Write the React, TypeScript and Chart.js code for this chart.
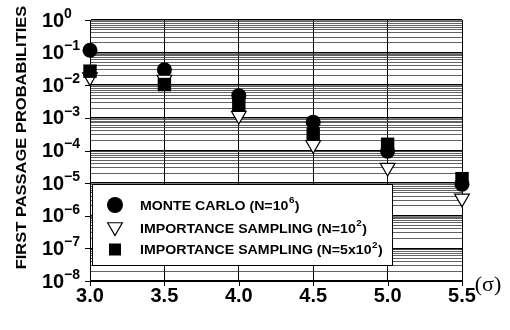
import React, { useEffect, useRef } from "react";
import { Chart, registerables } from "chart.js";

Chart.register(...registerables);

// ---------- data ----------
const sigma = [3.0, 3.5, 4.0, 4.5, 5.0, 5.5];
const xTickLabels = ["3.0", "3.5", "4.0", "4.5", "5.0", "5.5"];
const monteCarlo = [0.118, 0.03, 0.0048, 0.00074, 0.000095, 0.0000093];
const importance100 = [0.0177, 0.015, 0.00118, 0.00015, 0.00003, 0.0000034];
const importance500 = [0.027, 0.0105, 0.0026, 0.00032, 0.000155, 0.0000137];
const yExponents = [0, -1, -2, -3, -4, -5, -6, -7, -8];
const minorMultipliers = [2, 3, 4, 5, 6, 7, 8, 9];
const yTitle = "FIRST PASSAGE PROBABILITIES";
const xUnit = "(σ)";
const legendItems = [
  { base: "MONTE CARLO (N=10", sup: "6", tail: ")" },
  { base: "IMPORTANCE SAMPLING (N=10", sup: "2", tail: ")" },
  { base: "IMPORTANCE SAMPLING (N=5x10", sup: "2", tail: ")" },
];

const SANS = '"Liberation Sans", Arial, sans-serif';

function sText(ctx: CanvasRenderingContext2D, text: string, x: number, y: number, sx: number, align: CanvasTextAlign) {
  ctx.save();
  ctx.translate(x, y);
  ctx.scale(sx, 1);
  ctx.textAlign = align;
  ctx.fillText(text, 0, 0);
  ctx.restore();
}

const decorPlugin = {
  id: "decor",
  beforeDatasetsDraw(chart: any) {
    const ctx: CanvasRenderingContext2D = chart.ctx;
    // legend box
    const bx = 92.5, by = 184.5, bw = 300, bh = 81;
    ctx.save();
    ctx.fillStyle = "#fff";
    ctx.fillRect(bx, by, bw, bh);
    ctx.strokeStyle = "#000";
    ctx.lineWidth = 1;
    ctx.strokeRect(bx, by, bw, bh);
    const rows = [205, 228, 249.5];
    const sx = 1.09;
    // symbols
    ctx.fillStyle = "#000";
    ctx.beginPath();
    ctx.arc(115, rows[0], 8, 0, Math.PI * 2);
    ctx.fill();
    ctx.beginPath();
    const r = 8.5, cy = rows[1] - 1;
    ctx.moveTo(115 - r * 0.866, cy - r / 2);
    ctx.lineTo(115 + r * 0.866, cy - r / 2);
    ctx.lineTo(115, cy + r);
    ctx.closePath();
    ctx.fillStyle = "#fff";
    ctx.fill();
    ctx.lineWidth = 1.2;
    ctx.stroke();
    ctx.fillStyle = "#000";
    ctx.fillRect(109, rows[2] - 6, 12, 12);
    // texts
    ctx.textBaseline = "middle";
    legendItems.forEach((it, i) => {
      const y = rows[i] + 1;
      ctx.font = `bold 13px ${SANS}`;
      let x = 140;
      sText(ctx, it.base, x, y, sx, "left");
      x += ctx.measureText(it.base).width * sx;
      ctx.font = `bold 9px ${SANS}`;
      sText(ctx, it.sup, x + 0.5, y - 5, sx, "left");
      x += ctx.measureText(it.sup).width * sx + 1;
      ctx.font = `bold 13px ${SANS}`;
      sText(ctx, it.tail, x, y, sx, "left");
    });
    ctx.restore();
  },
  afterDraw(chart: any) {
    const ctx: CanvasRenderingContext2D = chart.ctx;
    const xs = chart.scales.x;
    const ys = chart.scales.y;
    const area = chart.chartArea;
    ctx.save();
    ctx.fillStyle = "#000";
    ctx.strokeStyle = "#000";
    ctx.lineWidth = 1;
    // y tick marks + labels
    ctx.textBaseline = "middle";
    yExponents.forEach((e) => {
      const py = ys.getPixelForValue(Math.pow(10, e));
      ctx.beginPath();
      ctx.moveTo(area.left - 5, Math.round(py) + 0.5);
      ctx.lineTo(area.left, Math.round(py) + 0.5);
      ctx.stroke();
      ctx.font = `bold 20px ${SANS}`;
      sText(ctx, "10", 42, py + 1, 1, "left");
      ctx.font = `bold 14px ${SANS}`;
      const ex = e === 0 ? "0" : "\u2212" + String(-e);
      sText(ctx, ex, 64, py - 6, 1, "left");
    });
    // x tick marks + labels
    sigma.forEach((v, i) => {
      const px = Math.round(xs.getPixelForValue(v)) + 0.5;
      ctx.beginPath();
      ctx.moveTo(px, area.bottom);
      ctx.lineTo(px, area.bottom + 5);
      ctx.stroke();
      ctx.font = `bold 20px ${SANS}`;
      sText(ctx, xTickLabels[i], xs.getPixelForValue(v), 296, 1, "center");
    });
    // unit
    ctx.font = `22px "Liberation Serif", "Times New Roman", serif`;
    sText(ctx, xUnit, 488, 285, 1, "center");
    // y title
    ctx.save();
    ctx.translate(22, 137.5);
    ctx.rotate(-Math.PI / 2);
    ctx.font = `bold 15px ${SANS}`;
    sText(ctx, yTitle, 0, 0, 1.1, "center");
    ctx.restore();
    ctx.restore();
  },
};

export default function App() {
  const ref = useRef<HTMLCanvasElement | null>(null);
  useEffect(() => {
    if (!ref.current) return;
    const isMajor = (v: number) => Math.abs(Math.log10(v) - Math.round(Math.log10(v))) < 1e-6;
    const chart = new Chart(ref.current, {
      type: "scatter",
      data: {
        datasets: [
          {
            label: "MONTE CARLO (N=10^6)",
            data: sigma.map((x, i) => ({ x, y: monteCarlo[i] })),
            pointStyle: "circle",
            pointRadius: 7.5,
            backgroundColor: "#000",
            borderColor: "#000",
            borderWidth: 0,
            order: 3,
            clip: false,
          } as any,
          {
            label: "IMPORTANCE SAMPLING (N=10^2)",
            data: sigma.map((x, i) => ({ x, y: importance100[i] })),
            pointStyle: "triangle",
            rotation: 180,
            pointRadius: 8.5,
            backgroundColor: "#fff",
            borderColor: "#000",
            borderWidth: 1.2,
            order: 2,
            clip: false,
          } as any,
          {
            label: "IMPORTANCE SAMPLING (N=5x10^2)",
            data: sigma.map((x, i) => ({ x, y: importance500[i] })),
            pointStyle: "rect",
            pointRadius: 9.5,
            backgroundColor: "#000",
            borderColor: "#000",
            borderWidth: 0,
            order: 1,
            clip: false,
          } as any,
        ],
      },
      options: {
        animation: false,
        responsive: false,
        events: [],
        layout: { padding: { left: 90, right: 48, top: 20, bottom: 49 } },
        plugins: { legend: { display: false }, tooltip: { enabled: false } },
        scales: {
          x: {
            type: "linear",
            min: 3,
            max: 5.5,
            afterBuildTicks: (s: any) => {
              s.ticks = sigma.map((v) => ({ value: v }));
            },
            ticks: { display: false },
            grid: { color: "#000", lineWidth: 1, drawTicks: false },
            border: { display: true, color: "#000", width: 1 },
          },
          y: {
            type: "logarithmic",
            min: 1e-8,
            max: 1,
            afterBuildTicks: (s: any) => {
              const t: any[] = [];
              yExponents.forEach((e) => {
                t.push({ value: Math.pow(10, e) });
                if (e < 0) minorMultipliers.forEach((m) => t.push({ value: m * Math.pow(10, e) }));
              });
              s.ticks = t;
            },
            ticks: { display: false },
            grid: {
              color: (c: any) => (isMajor(c.tick.value) ? "#000" : "#3a3a3a"),
              lineWidth: (c: any) => (isMajor(c.tick.value) ? 1.6 : 0.8),
              drawTicks: false,
            },
            border: { display: true, color: "#000", width: 1 },
          },
        },
      },
      plugins: [decorPlugin],
    });
    return () => chart.destroy();
  }, []);
  return (
    <div style={{ position: "absolute", left: 0, top: 0, width: 510, height: 330, background: "#fff" }}>
      <canvas ref={ref} width={510} height={330} />
    </div>
  );
}
